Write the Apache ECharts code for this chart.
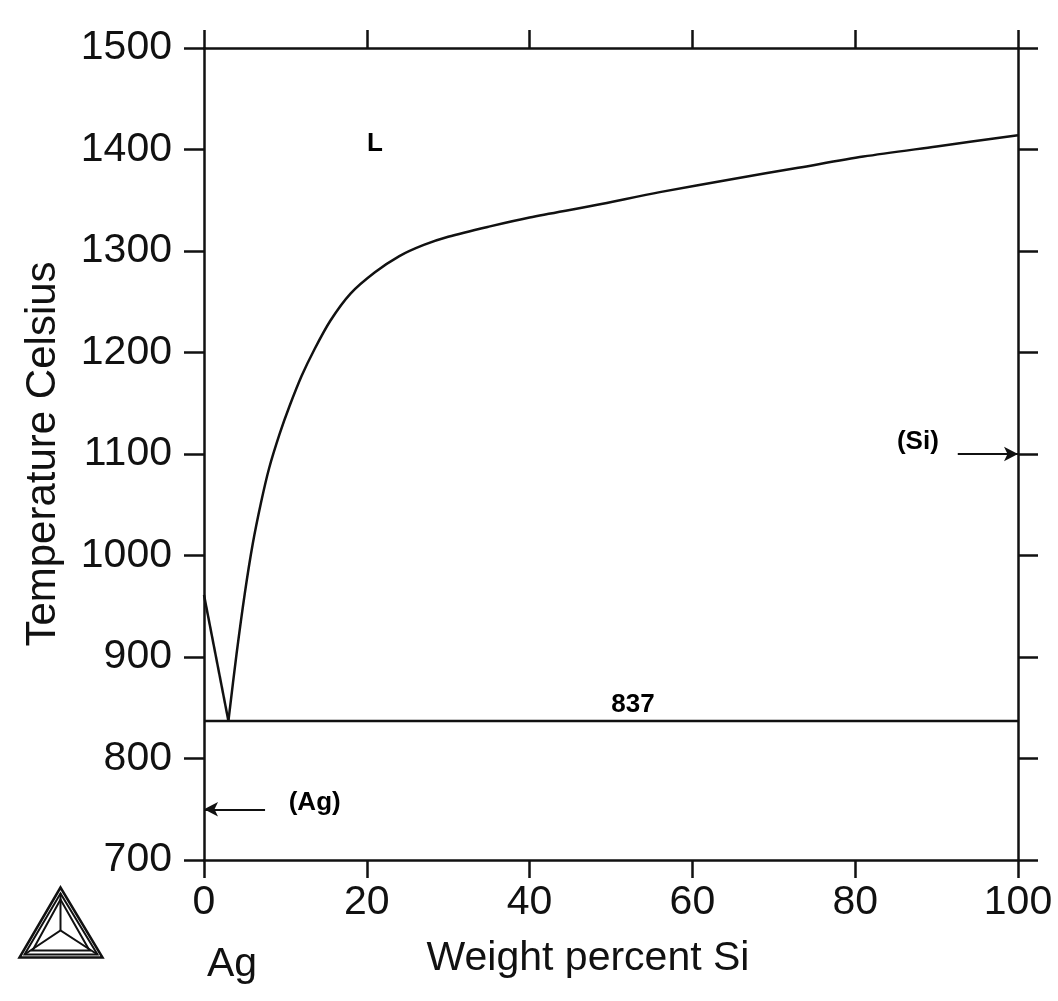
<!DOCTYPE html>
<html>
<head>
<meta charset="utf-8">
<script src="https://cdn.jsdelivr.net/npm/echarts/dist/echarts.min.js"></script>
<style>
html,body{margin:0;padding:0;background:#fff;}
#chart{width:1058px;height:1001px;}
</style>
</head>
<body>
<div id="chart"></div>
<script>
// ---- data ----
const xTicks = [0, 20, 40, 60, 80, 100];
const yTicks = [700, 800, 900, 1000, 1100, 1200, 1300, 1400, 1500];
// liquidus on the Ag side (Ag melting point to eutectic)
const liquidusAg = [[0, 961], [3.0, 837]];
// liquidus on the Si side (eutectic to Si melting point)
const liquidusSi = [
  [3.0, 837], [4.0, 903], [5.0, 962], [6.0, 1012], [7.0, 1052], [8.0, 1086],
  [9.3, 1120], [10.5, 1147], [12.0, 1177], [13.5, 1202], [15.5, 1231],
  [18.0, 1258], [21.0, 1279], [24.0, 1295], [27.0, 1306], [30.0, 1314],
  [35.0, 1324], [40.0, 1333], [48.0, 1345], [56.0, 1358], [65.0, 1371],
  [73.0, 1382], [81.0, 1393], [90.0, 1403], [100.0, 1414]
];
// eutectic isotherm
const eutectic = [[0, 837], [100, 837]];
// phase labels [x, T, text]
const phaseLabels = [
  [21.0, 1406, 'L'],
  [52.7, 853, '837'],
  [87.7, 1112, '(Si)'],
  [13.6, 756, '(Ag)']
];
// solubility arrows [fromX, toX, T]
const arrows = [[92.6, 100, 1100], [7.5, 0, 750]];

const FONT = '"Liberation Sans", Arial, Helvetica, sans-serif';
const BLACK = '#111';

const chart = echarts.init(document.getElementById('chart'), null, {renderer: 'canvas'});

const axisLineStyle = {color: BLACK, width: 2.5};
const baseX = {
  type: 'value', min: 0, max: 100, interval: 20,
  axisLine: {show: true, onZero: false, lineStyle: axisLineStyle},
  axisTick: {show: true, inside: false, length: 18, lineStyle: {color: BLACK, width: 2.5}},
  splitLine: {show: false}
};
const baseY = {
  type: 'value', min: 700, max: 1500, interval: 100,
  axisLine: {show: true, onZero: false, lineStyle: axisLineStyle},
  axisTick: {show: true, inside: false, length: 20, lineStyle: {color: BLACK, width: 2.5}},
  splitLine: {show: false}
};

const option = {
  backgroundColor: '#fff',
  animation: false,
  grid: {left: 204, right: 40, top: 48, bottom: 141},
  xAxis: [
    Object.assign({}, baseX, {
      position: 'bottom',
      name: 'Weight percent Si', nameLocation: 'middle', nameGap: 78,
      nameTextStyle: {fontFamily: FONT, fontSize: 41, color: BLACK, padding: [0, 46, 0, 0]},
      axisLabel: {show: true, margin: 22, fontFamily: FONT, fontSize: 41, color: BLACK,
        formatter: v => xTicks.indexOf(v) >= 0 ? String(v) : ''}
    }),
    Object.assign({}, baseX, {position: 'top', axisLabel: {show: false}})
  ],
  yAxis: [
    Object.assign({}, baseY, {
      position: 'left',
      name: 'Temperature Celsius', nameLocation: 'middle', nameGap: 140,
      nameTextStyle: {fontFamily: FONT, fontSize: 42, color: BLACK},
      axisLabel: {show: true, margin: 32, fontFamily: FONT, fontSize: 41, color: BLACK,
        formatter: v => yTicks.indexOf(v) >= 0 ? String(v) : ''}
    }),
    Object.assign({}, baseY, {position: 'right', axisLabel: {show: false}})
  ],
  series: [
    {
      type: 'line', name: 'liquidus Ag', data: liquidusAg, showSymbol: false, symbol: 'none',
      lineStyle: {color: BLACK, width: 2.5}, z: 3
    },
    {
      type: 'line', name: 'liquidus Si', data: liquidusSi, showSymbol: false, symbol: 'none',
      smooth: 0.3, lineStyle: {color: BLACK, width: 2.5}, z: 3
    },
    {
      type: 'line', name: 'eutectic', data: eutectic, showSymbol: false, symbol: 'none',
      lineStyle: {color: BLACK, width: 2.5}, z: 3,
      markLine: {
        silent: true, symbol: ['none', 'arrow'], symbolSize: [11, 14],
        lineStyle: {color: BLACK, width: 2.2, type: 'solid'},
        label: {show: false},
        data: arrows.map(a => [{coord: [a[0], a[2]]}, {coord: [a[1], a[2]]}])
      }
    },
    {
      type: 'scatter', name: 'labels', symbolSize: 0, silent: true, z: 5,
      itemStyle: {opacity: 1, color: '#000'},
      data: phaseLabels.map(p => ({value: [p[0], p[1]], name: p[2]})),
      label: {
        show: true, position: 'inside', formatter: p => p.name,
        fontFamily: FONT, fontSize: 26, fontWeight: 'bold', color: '#000',
        textBorderWidth: 0, opacity: 1
      }
    }
  ],
  graphic: [
    {
      type: 'text', left: 207, top: 944,
      style: {text: 'Ag', font: '41px ' + FONT, fill: BLACK}
    },
    {
      type: 'group', left: 17, top: 885,
      children: [
        {type: 'polygon', shape: {points: [[41, 0], [0, 70], [83, 70]]}, style: {fill: 'none', stroke: BLACK, lineWidth: 2.5}},
        {type: 'polygon', shape: {points: [[41, 6], [5, 67], [78, 67]]}, style: {fill: 'none', stroke: BLACK, lineWidth: 2}},
        {type: 'polygon', shape: {points: [[41, 12], [13, 63], [70, 63]]}, style: {fill: 'none', stroke: BLACK, lineWidth: 2}},
        {type: 'polyline', shape: {points: [[41, 6], [41, 43]]}, style: {stroke: BLACK, lineWidth: 2}},
        {type: 'polyline', shape: {points: [[5, 67], [41, 43], [78, 67]]}, style: {fill: 'none', stroke: BLACK, lineWidth: 2}}
      ]
    }
  ]
};
chart.setOption(option);
</script>
</body>
</html>
